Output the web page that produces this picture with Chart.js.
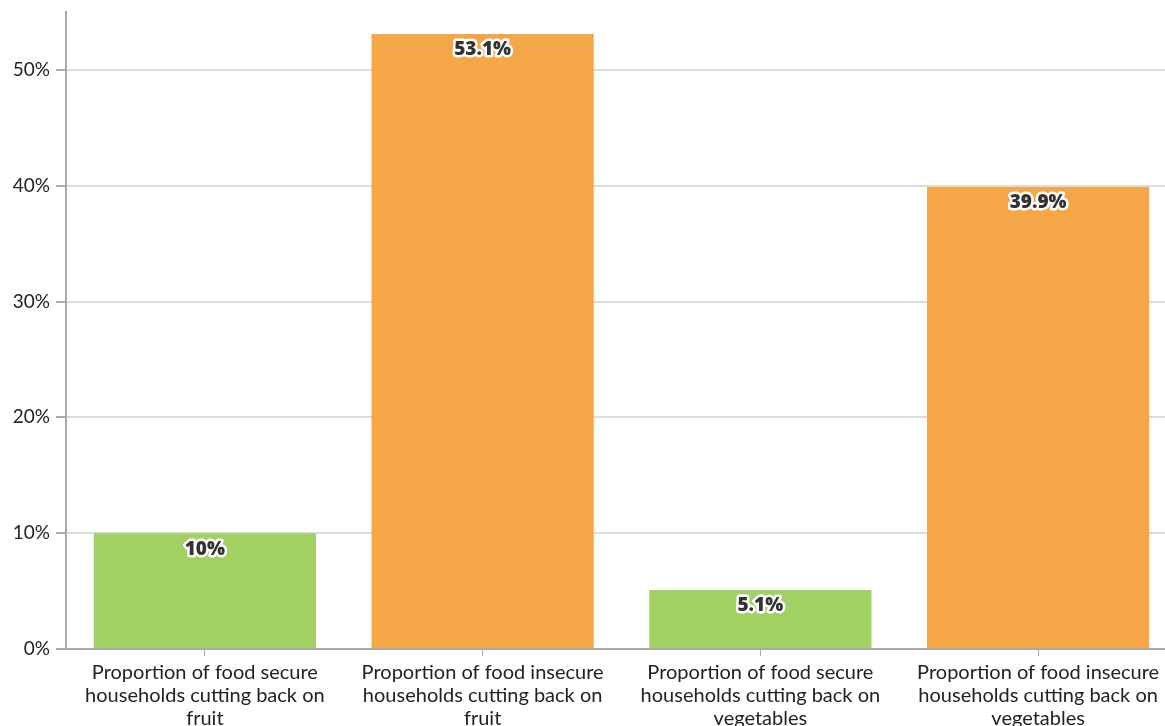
<!DOCTYPE html>
<html>
<head>
<meta charset="utf-8">
<script src="https://cdn.jsdelivr.net/npm/chart.js@4"></script>
<style>
  html, body { margin: 0; padding: 0; overflow: hidden; background: #fff; }
  #wrap { width: 1177px; height: 750px; }
</style>
</head>
<body>
<div id="wrap"><canvas id="graph" width="1177" height="750"></canvas></div>
<script>
const categories = [
    ['Proportion of food secure', 'households cutting back on', 'fruit'],
    ['Proportion of food insecure', 'households cutting back on', 'fruit'],
    ['Proportion of food secure', 'households cutting back on', 'vegetables'],
    ['Proportion of food insecure', 'households cutting back on', 'vegetables']
];
const values = [10, 53.1, 5.1, 39.9];
const valueLabels = ['10%', '53.1%', '5.1%', '39.9%'];
const barColors = ['#a1d063', '#f5a647', '#a1d063', '#f5a647'];

// draws the value labels near the top of each bar
const barLabels = {
    id: 'barLabels',
    afterDatasetsDraw(chart) {
        const ctx = chart.ctx;
        const meta = chart.getDatasetMeta(0);
        ctx.save();
        ctx.font = '800 19px "Open Sans"';
        ctx.textAlign = 'center';
        ctx.textBaseline = 'middle';
        ctx.lineJoin = 'round';
        meta.data.forEach((bar, i) => {
            const y = bar.y + 16;
            ctx.lineWidth = 5;
            ctx.strokeStyle = '#fff';
            ctx.strokeText(valueLabels[i], bar.x, y);
            ctx.fillStyle = '#333';
            ctx.fillText(valueLabels[i], bar.x, y);
        });
        ctx.restore();
    }
};

const ctx = document.getElementById('graph').getContext('2d');
const dataChart = new Chart(ctx, {
    type: 'bar',
    data: {
        labels: categories,
        datasets: [{
            data: values,
            backgroundColor: barColors,
            barPercentage: 0.8,
            categoryPercentage: 1
        }]
    },
    plugins: [barLabels],
    options: {
        responsive: false,
        animation: false,
        layout: { padding: { top: 12, right: 0, left: 0, bottom: 0 } },
        plugins: {
            legend: { display: false },
            tooltip: { enabled: false }
        },
        scales: {
            x: {
                grid: {
                    offset: false,
                    drawOnChartArea: false,
                    drawTicks: true,
                    tickLength: 7,
                    color: '#aaa'
                },
                border: { color: '#aaa', width: 2 },
                ticks: {
                    color: '#222',
                    font: { family: 'Lato', size: 20, lineHeight: 1.15 },
                    padding: 5,
                    maxRotation: 0,
                    autoSkip: false
                },
                afterFit: function (scale) { scale.height = 101; }
            },
            y: {
                min: 0,
                max: 55,
                afterBuildTicks: function (axis) {
                    axis.ticks = axis.ticks.filter(t => t.value % 10 === 0);
                },
                grid: {
                    color: '#dcdcdc',
                    lineWidth: 2,
                    tickLength: 10,
                    tickColor: '#aaa'
                },
                border: { color: '#aaa', width: 2 },
                ticks: {
                    stepSize: 10,
                    color: '#222',
                    font: { family: 'Lato', size: 19 },
                    padding: 6,
                    callback: function (value) { return value + '%'; }
                },
                afterFit: function (scale) {
                    scale.width = 66;
                    scale.paddingTop = 0;
                }
            }
        }
    }
});
</script>
</body>
</html>
